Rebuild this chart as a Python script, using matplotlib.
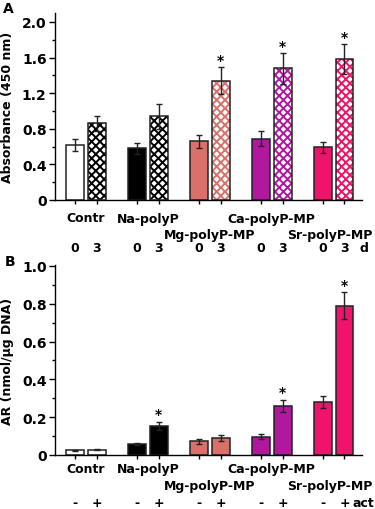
import matplotlib
matplotlib.use("Agg")
import matplotlib.pyplot as plt
import numpy as np

plt.rcParams['font.family'] = ['DejaVu Sans']
plt.rcParams['font.weight'] = 'bold'
plt.rcParams['hatch.linewidth'] = 1.4

groups = ["Contr", "Na-polyP", "Mg-polyP-MP", "Ca-polyP-MP", "Sr-polyP-MP"]
label_row = [0, 0, 1, 0, 1]
label_shift = [0, 0, 0, 0, -0.06]
colors = ["#FFFFFF", "#000000", "#D9706A", "#B0189E", "#F0136C"]
pattern_colors = ["#000000", "#000000", "#D9706A", "#B0189E", "#F0136C"]
patterns = ["xxxx", "xxxx", "xxxx", "xxxx", "xxxx"]

# Panel A: absorbance at day 0 and day 3
a_day0 = [0.62, 0.58, 0.66, 0.69, 0.59]
a_day0_err = [0.07, 0.06, 0.075, 0.08, 0.06]
a_day3 = [0.86, 0.94, 1.34, 1.48, 1.58]
a_day3_err = [0.08, 0.14, 0.15, 0.175, 0.17]
a_star = [False, False, True, True, True]
a_ticklabels = ["0", "3"]
a_unit = "d"

# Panel B: AR without / with activation
b_minus = [0.026, 0.058, 0.072, 0.097, 0.282]
b_minus_err = [0.003, 0.005, 0.012, 0.013, 0.032]
b_plus = [0.028, 0.155, 0.090, 0.258, 0.790]
b_plus_err = [0.003, 0.022, 0.018, 0.033, 0.07]
b_star = [False, True, False, True, True]
b_ticklabels = ["-", "+"]
b_unit = "act"

fig = plt.figure(figsize=(3.75, 5.1), dpi=100)
W, H = 375, 510

def make_ax(top_px, bottom_px):
    return fig.add_axes([55 / W, (H - bottom_px) / H, (362 - 55) / W, (bottom_px - top_px) / H])

axA = make_ax(14, 201)
axB = make_ax(266, 456)

x = np.arange(len(groups))
off = 0.177
bw = 0.29
FS = 9

def style(ax, ylim, major, minor, ylabels, ylabel):
    ax.set_xlim(-0.5, 4.46)
    ax.set_ylim(*ylim)
    for s in ["top", "right"]:
        ax.spines[s].set_visible(False)
    for s in ["left", "bottom"]:
        ax.spines[s].set_linewidth(1.0)
    ax.set_yticks(major)
    ax.set_yticklabels(ylabels, fontsize=FS + 1, fontweight='bold')
    ax.set_yticks(minor, minor=True)
    ax.tick_params(axis='y', which='major', direction='out', length=4, width=1, pad=2)
    ax.tick_params(axis='y', which='minor', direction='out', length=2, width=1)
    ax.set_xticks(np.concatenate([x - off, x + off]))
    ax.set_xticklabels([])
    ax.tick_params(axis='x', direction='out', length=3, width=1)
    ax.set_ylabel(ylabel, fontsize=FS, fontweight='bold')
    ax.yaxis.set_label_coords(-0.133, 0.5)

def draw(ax, v0, e0, v1, e1, star, hatched, star_gap):
    for i in range(len(groups)):
        ax.bar(x[i] - off, v0[i], bw, color=colors[i], edgecolor='#222222', linewidth=1.1, zorder=2)
        if hatched:
            ax.bar(x[i] + off, v1[i], bw, color='white', edgecolor=pattern_colors[i],
                   hatch=patterns[i], linewidth=0, zorder=2)
            ax.bar(x[i] + off, v1[i], bw, fill=False, edgecolor='#222222', linewidth=1.1, zorder=3)
        else:
            ax.bar(x[i] + off, v1[i], bw, color=colors[i], edgecolor='#222222', linewidth=1.1, zorder=2)
    ax.errorbar(x - off, v0, yerr=e0, fmt='none', ecolor='#222222', elinewidth=1, capsize=2.5, capthick=1, zorder=4)
    ax.errorbar(x + off, v1, yerr=e1, fmt='none', ecolor='#222222', elinewidth=1, capsize=2.5, capthick=1, zorder=4)
    for i in range(len(groups)):
        if star[i]:
            ax.text(x[i] + off, v1[i] + e1[i] + star_gap, "*", ha='center', va='center',
                    fontsize=FS + 1, fontweight='bold')

def labels(ax, ax_h_px, rows_px, ticklabels, unit):
    tr = ax.get_xaxis_transform()
    for i, g in enumerate(groups):
        ax.text(x[i] + label_shift[i], -rows_px[label_row[i]] / ax_h_px, g, transform=tr, ha='center',
                va='center', fontsize=FS, fontweight='bold', clip_on=False)
        ax.text(x[i] - off, -rows_px[2] / ax_h_px, ticklabels[0], transform=tr, ha='center', va='center',
                fontsize=FS, fontweight='bold', clip_on=False)
        ax.text(x[i] + off, -rows_px[2] / ax_h_px, ticklabels[1], transform=tr, ha='center', va='center',
                fontsize=FS, fontweight='bold', clip_on=False)
    ax.text(x[-1] + off + 0.31, -rows_px[2] / ax_h_px, unit, transform=tr, ha='center', va='center',
            fontsize=FS, fontweight='bold', clip_on=False)

style(axA, (0, 2.1), [0, 0.4, 0.8, 1.2, 1.6, 2.0], np.arange(0.2, 2.1, 0.4),
      ["0", "0.4", "0.8", "1.2", "1.6", "2.0"], "Absorbance (450 nm)")
draw(axA, a_day0, a_day0_err, a_day3, a_day3_err, a_star, True, 0.08)
labels(axA, 187, [18, 35, 47.5], a_ticklabels, a_unit)

style(axB, (0, 1.005), [0, 0.2, 0.4, 0.6, 0.8, 1.0], np.arange(0.1, 1.0, 0.2),
      ["0", "0.2", "0.4", "0.6", "0.8", "1.0"], "AR (nmol/µg DNA)")
draw(axB, b_minus, b_minus_err, b_plus, b_plus_err, b_star, False, 0.04)
labels(axB, 190, [14, 31, 47.5], b_ticklabels, b_unit)

fig.text(8 / W, 1 - 9 / H, "A", fontsize=FS + 1, fontweight='bold', ha='center', va='center')
fig.text(10 / W, 1 - 262 / H, "B", fontsize=FS + 1, fontweight='bold', ha='center', va='center')

fig.savefig("out.png", dpi=100)
